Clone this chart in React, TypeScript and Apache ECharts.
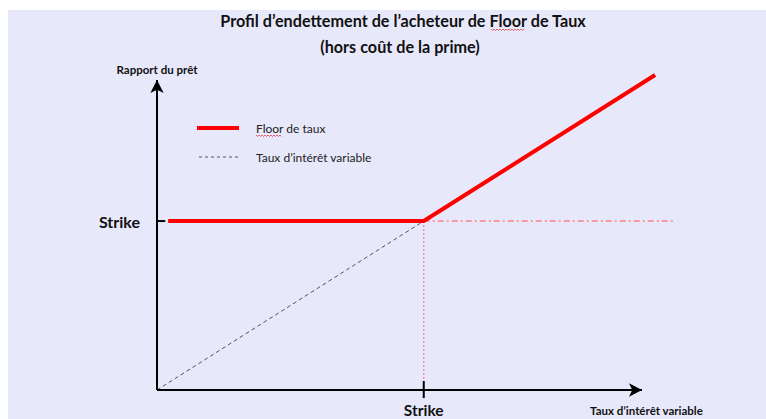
import React, { useEffect, useRef } from "react";
import * as echarts from "echarts";

const TITLE_LINES = ["Profil d’endettement de l’acheteur de Floor de Taux", "(hors coût de la prime)"];
const Y_AXIS_NAME = "Rapport du prêt";
const X_AXIS_NAME = "Taux d’intérêt variable";
const STRIKE_LABEL = "Strike";
const SERIES_NAMES = ["Floor de taux", "Taux d’intérêt variable"];

const STRIKE_X = 5.5;
const STRIKE_Y = 5.45;
const AXIS_END = 10; // arrow tips of the drawn axes
const X_MAX = 11;
const Y_MAX = 11;

// Floor profile: flat at strike then follows the variable rate
const floorData: number[][] = [[0.23, STRIKE_Y], [STRIKE_X, STRIKE_Y], [10.27, 10.16]];
// Variable rate (diagonal)
const variableData: number[][] = [[0, 0], [STRIKE_X, STRIKE_Y]];
// Guide lines
const strikeHGuide: number[][] = [[STRIKE_X, STRIKE_Y], [10.68, STRIKE_Y]];
const strikeVGuide: number[][] = [[STRIKE_X, STRIKE_Y], [STRIKE_X, 0.3]];
// Tick marks
const yTick: number[][] = [[-0.15, STRIKE_Y], [0.17, STRIKE_Y]];
const xTick: number[][] = [[STRIKE_X, 0.29], [STRIKE_X, -0.26]];

const FONT = "Lato, 'Open Sans', sans-serif";

export default function App() {
  const ref = useRef<HTMLDivElement>(null);
  useEffect(() => {
    if (!ref.current) return;
    const chart = echarts.init(ref.current, null, { renderer: "svg" });
    const squiggle = (x0: number, y0: number, w: number) => {
      const pts: number[][] = [];
      for (let i = 0; i <= w; i += 1.5) pts.push([x0 + i, y0 + (Math.round(i / 1.5) % 2 === 0 ? 0 : 1.5)]);
      return pts;
    };
    const lineSeries = (name: string, data: number[][], lineStyle: any, z = 3) => ({
      name, type: "line", data, showSymbol: false, symbol: "none", clip: false, z, lineStyle, silent: true,
    });
    chart.setOption({
      animation: false,
      backgroundColor: "#ffffff",
      textStyle: { fontFamily: FONT },
      graphic: [
        { type: "rect", z: -10, shape: { x: 8, y: 10, width: 758, height: 409 }, style: { fill: "#e8e8fb" } },
        {
          type: "text", x: 403, y: 20,
          style: { text: TITLE_LINES[0], font: `bold 16.2px ${FONT}`, fill: "#111", align: "center", verticalAlign: "middle" },
        },
        {
          type: "text", x: 400, y: 46,
          style: { text: TITLE_LINES[1], font: `bold 16.2px ${FONT}`, fill: "#111", align: "center", verticalAlign: "middle" },
        },
        { type: "polyline", shape: { points: squiggle(491, 29, 33) }, style: { stroke: "#e04040", lineWidth: 0.8, fill: null } },
        // legend (drawn)
        { type: "line", shape: { x1: 197, y1: 128, x2: 239, y2: 128 }, style: { stroke: "#ff0000", lineWidth: 4 } },
        {
          type: "text", x: 256, y: 128,
          style: { text: SERIES_NAMES[0], font: `12px ${FONT}`, fill: "#222", verticalAlign: "middle" },
        },
        { type: "polyline", shape: { points: squiggle(256, 135, 26) }, style: { stroke: "#e04040", lineWidth: 0.8, fill: null } },
        { type: "line", shape: { x1: 199, y1: 157, x2: 240, y2: 157 }, style: { stroke: "#4a5a4a", lineWidth: 1, lineDash: [3, 3] } },
        {
          type: "text", x: 256, y: 157,
          style: { text: SERIES_NAMES[1], font: `12px ${FONT}`, fill: "#222", verticalAlign: "middle" },
        },
        {
          type: "text", x: 590, y: 404,
          style: { text: X_AXIS_NAME, font: `bold 11.5px ${FONT}`, fill: "#111" },
        },
      ],
      grid: { left: 157, right: 75.5, top: 49, bottom: 29 },
      xAxis: {
        type: "value", min: 0, max: X_MAX, interval: STRIKE_X,
        splitLine: { show: false },
        axisTick: { show: false },
        axisLine: { show: false },
        axisLabel: {
          margin: 12, color: "#111", fontSize: 15.5, fontWeight: "bold", fontFamily: FONT,
          formatter: (v: number) => (Math.abs(v - STRIKE_X) < 1e-6 ? STRIKE_LABEL : ""),
        },
      },
      yAxis: {
        type: "value", min: 0, max: Y_MAX, interval: STRIKE_Y,
        splitLine: { show: false },
        axisTick: { show: false },
        axisLine: { show: false },
        axisLabel: {
          margin: 17, color: "#111", fontSize: 16, fontWeight: "bold", fontFamily: FONT,
          formatter: (v: number) => (Math.abs(v - STRIKE_Y) < 1e-6 ? STRIKE_LABEL : ""),
        },
      },
      series: [
        lineSeries(SERIES_NAMES[0], floorData, { color: "#ff0000", width: 4 }, 5),
        lineSeries(SERIES_NAMES[1], variableData, { color: "#555", width: 1, type: [4, 3] }, 3),
        lineSeries("guideH", strikeHGuide, { color: "#ff7f8a", width: 1.5, type: [6, 3, 2, 3] }, 2),
        lineSeries("guideV", strikeVGuide, { color: "#ff7f8a", width: 1.2, type: [2, 2] }, 2),
        lineSeries("tickY", yTick, { color: "#000", width: 2 }, 4),
        lineSeries("tickX", xTick, { color: "#000", width: 2 }, 4),
        {
          name: "axes", type: "line", data: [], silent: true, z: 4,
          markLine: {
            silent: true, animation: false,
            symbol: ["none", "arrow"], symbolSize: [10, 13],
            lineStyle: { color: "#000", width: 2, type: "solid" },
            label: { show: false },
            data: [
              [{ coord: [0, 0] }, { coord: [AXIS_END, 0] }],
              [{ coord: [0, 0] }, { coord: [0, AXIS_END] }],
            ],
          },
        },
        {
          name: "axisName", type: "line", data: [], silent: true,
          markPoint: {
            symbol: "rect", symbolSize: 1, itemStyle: { color: "transparent" },
            label: {
              show: true, formatter: Y_AXIS_NAME, position: "top", distance: 4,
              color: "#111", fontSize: 11.5, fontWeight: "bold", fontFamily: FONT,
            },
            data: [{ coord: [0, AXIS_END] }],
          },
        },
      ],
    });
    return () => chart.dispose();
  }, []);
  return <div ref={ref} style={{ position: "fixed", left: 0, top: 0, width: 766, height: 419 }} />;
}
